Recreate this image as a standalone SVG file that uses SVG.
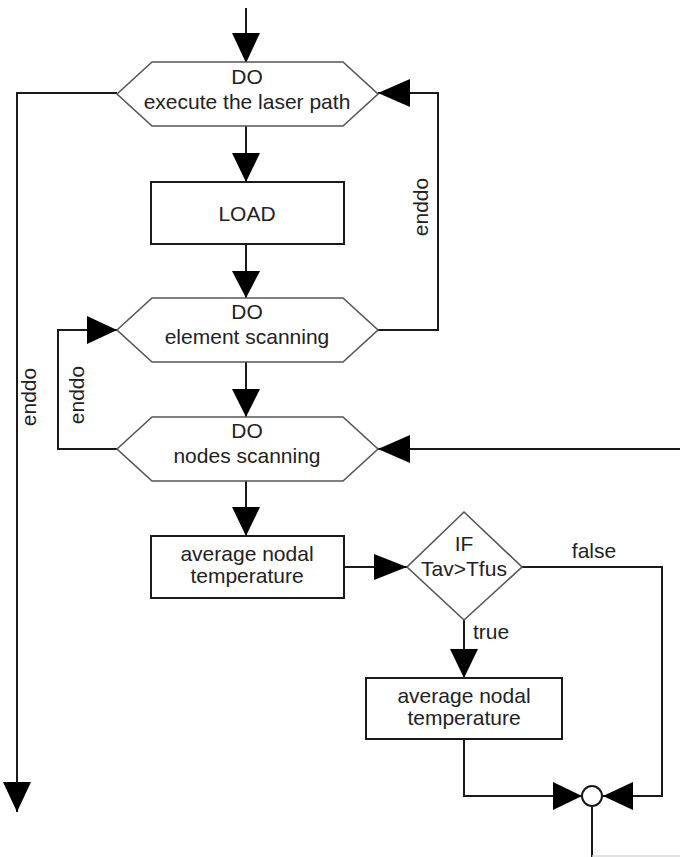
<svg xmlns="http://www.w3.org/2000/svg" width="680" height="857" viewBox="0 0 680 857">
<style>
  .ln { fill: none; stroke: #1a1a1a; stroke-width: 2; }
  .shape { fill: #fff; stroke: #555; stroke-width: 1.6; }
  .box { fill: #fff; stroke: #1a1a1a; stroke-width: 2; }
  .ah { fill: #000; }
  text { font-family: "Liberation Sans", Arial, sans-serif; font-size: 21px; fill: #222; }
  .c { text-anchor: middle; }
</style>
<rect width="680" height="857" fill="#fff"/>

<g id="connectors">
  <!-- entry -->
  <line class="ln" x1="246" y1="8" x2="246" y2="62"/>
  <polygon class="ah" points="232,33 260,33 246,63"/>
  <!-- hex1 to LOAD -->
  <line class="ln" x1="246" y1="126" x2="246" y2="182"/>
  <polygon class="ah" points="232,153 260,153 246,182"/>
  <!-- LOAD to hex2 -->
  <line class="ln" x1="246" y1="244" x2="246" y2="298"/>
  <polygon class="ah" points="232,271 260,271 246,298"/>
  <!-- hex2 to hex3 -->
  <line class="ln" x1="246" y1="362" x2="246" y2="417"/>
  <polygon class="ah" points="232,389 260,389 246,417"/>
  <!-- hex3 to box1 -->
  <line class="ln" x1="246" y1="481" x2="246" y2="536"/>
  <polygon class="ah" points="232,507 260,507 246,536"/>
  <!-- box1 to diamond -->
  <line class="ln" x1="344" y1="567" x2="407" y2="567"/>
  <polygon class="ah" points="374,554 374,580 407,567"/>
  <!-- diamond true to box2 -->
  <line class="ln" x1="464" y1="620" x2="464" y2="678"/>
  <polygon class="ah" points="450,649 478,649 464,678"/>
  <text x="473" y="639">true</text>
  <!-- diamond false to circle -->
  <polyline class="ln" points="522,567 662,567 662,796 603,796"/>
  <polygon class="ah" points="633,782 633,810 603,796"/>
  <text x="594" y="558" class="c">false</text>
  <!-- box2 to circle -->
  <polyline class="ln" points="464,739 464,796 582,796"/>
  <polygon class="ah" points="553,782 553,810 582,796"/>
  <!-- circle down -->
  <polyline class="ln" points="592,806 592,857"/>
  <line x1="592" y1="856" x2="680" y2="856" stroke="#d8d8d8" stroke-width="1.5"/>
  <!-- nodes loop back from right -->
  <line class="ln" x1="680" y1="449" x2="378" y2="449"/>
  <polygon class="ah" points="410,435 410,463 378,449"/>
  <!-- element enddo (right) -->
  <polyline class="ln" points="378,330 438,330 438,93 378,93"/>
  <polygon class="ah" points="410,79 410,107 378,93"/>
  <text transform="translate(428,207) rotate(-90)" class="c">enddo</text>
  <!-- nodes enddo (inner left) -->
  <polyline class="ln" points="117,449 58,449 58,330 117,330"/>
  <polygon class="ah" points="87,316 87,344 117,330"/>
  <text transform="translate(84,395) rotate(-90)" class="c">enddo</text>
  <!-- outer enddo (left) -->
  <polyline class="ln" points="117,93 17,93 17,812"/>
  <polygon class="ah" points="3,782 31,782 17,812"/>
  <text transform="translate(36,397) rotate(-90)" class="c">enddo</text>
</g>

<g id="do-laser-path">
  <polygon class="shape" points="117,94 152,62 343,62 378,94 343,126 152,126"/>
  <text x="247" y="84" class="c">DO</text>
  <text x="247" y="109" class="c">execute the laser path</text>
</g>

<g id="load">
  <rect class="box" x="151" y="182" width="193" height="62"/>
  <text x="247" y="221" class="c">LOAD</text>
</g>

<g id="do-element-scanning">
  <polygon class="shape" points="117,330 152,298 343,298 378,330 343,362 152,362"/>
  <text x="247" y="319" class="c">DO</text>
  <text x="247" y="344" class="c">element scanning</text>
</g>

<g id="do-nodes-scanning">
  <polygon class="shape" points="117,449 152,417 343,417 378,449 343,481 152,481"/>
  <text x="247" y="438" class="c">DO</text>
  <text x="247" y="463" class="c">nodes scanning</text>
</g>

<g id="avg-temp-1">
  <rect class="box" x="151" y="536" width="193" height="62"/>
  <text x="247" y="561" class="c">average nodal</text>
  <text x="247" y="583" class="c">temperature</text>
</g>

<g id="if-tav-tfus">
  <polygon class="shape" points="464,512 522,567 464,620 407,567"/>
  <text x="464" y="551" class="c">IF</text>
  <text x="464" y="576" class="c">Tav&gt;Tfus</text>
</g>

<g id="avg-temp-2">
  <rect class="box" x="366" y="678" width="196" height="61"/>
  <text x="464" y="703" class="c">average nodal</text>
  <text x="464" y="725" class="c">temperature</text>
</g>

<g id="junction">
  <circle cx="592" cy="796" r="10" fill="#fff" stroke="#1a1a1a" stroke-width="2"/>
</g>
</svg>
